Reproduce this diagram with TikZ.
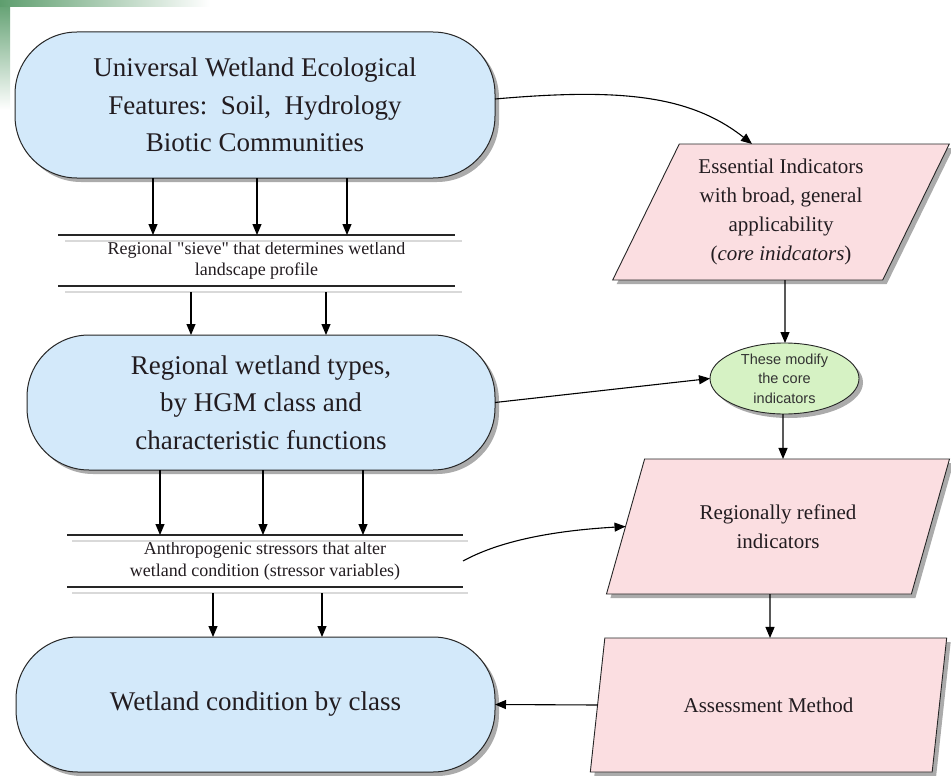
\documentclass[tikz,border=0pt]{standalone}
\usepackage{fontspec}
\setmainfont{Liberation Serif}
\newfontfamily\sansf{Liberation Sans}
\font\straightq="Liberation Serif" at 18pt
\usetikzlibrary{shapes.geometric,shadows,arrows.meta}
\definecolor{bluefill}{HTML}{D3E9FA}
\definecolor{pinkfill}{HTML}{FBDEE1}
\definecolor{greenfill}{HTML}{D6F2C4}
\definecolor{cornergreen}{HTML}{5E9E6E}
\definecolor{txt}{HTML}{221C20}
\begin{document}
\begin{tikzpicture}[x=1pt,y=-1pt,
  shad/.style={drop shadow={shadow xshift=4pt,shadow yshift=-4pt,fill=black,opacity=0.33}},
  stadium/.style={draw=black!85, line width=1pt, fill=bluefill, rounded corners=62pt,
    align=center, inner sep=0pt, outer sep=0pt, text=txt, shad,
    font=\fontsize{27}{37.5}\selectfont},
  para/.style={trapezium, trapezium left angle=63, trapezium right angle=117,
    trapezium stretches=true, draw=black!85, line width=0.9pt, fill=pinkfill,
    align=center, inner sep=0pt, outer sep=0pt, text=txt, shad,
    font=\fontsize{21}{29}\selectfont},
  filterbox/.style={align=center, inner sep=0pt, outer sep=0pt, text=txt,
    font=\fontsize{18}{21.5}\selectfont},
  darkline/.style={line width=1.3pt, black!85},
  paleline/.style={line width=1.3pt, black!15},
  arr/.style={line width=1.1pt, black, -{Triangle[length=11pt,width=9pt]}},
  oval/.style={ellipse, draw=black!85, line width=0.9pt, fill=greenfill, align=center,
    inner sep=0pt, outer sep=0pt, text=black!80, shad,
    font=\sansf\fontsize{14.5}{19.5}\selectfont}]
\useasboundingbox (0,0) rectangle (951,776);
\fill[white] (0,0) rectangle (951,776);
\shade[top color=cornergreen, bottom color=white] (0,0) rectangle (10,110);
\shade[left color=cornergreen, right color=white] (0,0) rectangle (210,7);

% left column
\node[stadium, minimum width=480pt, minimum height=146pt] (n1) at (255,105)
  {Universal Wetland Ecological\\Features:\ \ Soil, \ Hydrology\\Biotic Communities};
\node[filterbox, minimum width=397pt, minimum height=51pt] (sieve) at (256.5,260.5)
  {Regional {\straightq"}sieve{\straightq"} that determines wetland\\landscape profile};
\node[stadium, minimum width=468pt, minimum height=135pt] (n2) at (261,402.5)
  {Regional wetland types,\\by HGM class and\\characteristic functions};
\node[filterbox, minimum width=396pt, minimum height=52pt] (stress) at (265,561)
  {Anthropogenic stressors that alter\\wetland condition (stressor variables)};
\node[stadium, minimum width=479pt, minimum height=135pt] (n3) at (255.5,704.5)
  {Wetland condition by class};

% filter lines
\draw[paleline] ([shift={(7pt,-6pt)}]sieve.north west) -- ([shift={(7pt,-6pt)}]sieve.north east);
\draw[darkline] (sieve.north west) -- (sieve.north east);
\draw[paleline] ([shift={(7pt,-6pt)}]sieve.south west) -- ([shift={(7pt,-6pt)}]sieve.south east);
\draw[darkline] (sieve.south west) -- (sieve.south east);
\draw[paleline] ([shift={(5pt,-6pt)}]stress.north west) -- ([shift={(5pt,-6pt)}]stress.north east);
\draw[darkline] (stress.north west) -- (stress.north east);
\draw[paleline] ([shift={(5pt,-6pt)}]stress.south west) -- ([shift={(5pt,-6pt)}]stress.south east);
\draw[darkline] (stress.south west) -- (stress.south east);

% right column
\node[para, minimum width=338pt, minimum height=136pt] (p1) at (781,212)
  {Essential Indicators\\with broad, general\\applicability\\(\textit{core inidcators})};
\node[oval, minimum width=149pt, minimum height=71pt] (ell) at (784.5,378.5)
  {These modify\\the core\\indicators};
\node[para, minimum width=344pt, minimum height=135pt] (p2) at (778,526.5)
  {Regionally refined\\indicators};
\node[para, minimum width=357pt, minimum height=134pt] (p3) at (768.5,705)
  {Assessment Method};

% vertical arrows, left column
\draw[arr] ([xshift=-102pt]n1.south) -- ([xshift=-103.5pt]sieve.north);
\draw[arr] ([xshift=2pt]n1.south) -- ([xshift=0.5pt]sieve.north);
\draw[arr] ([xshift=92pt]n1.south) -- ([xshift=90.5pt]sieve.north);
\draw[arr] ([xshift=-65.5pt,yshift=-6pt]sieve.south) -- ([xshift=-70pt]n2.north);
\draw[arr] ([xshift=69.5pt,yshift=-6pt]sieve.south) -- ([xshift=65pt]n2.north);
\draw[arr] ([xshift=-101pt]n2.south) -- ([xshift=-105pt]stress.north);
\draw[arr] ([xshift=2pt]n2.south) -- ([xshift=-2pt]stress.north);
\draw[arr] ([xshift=102pt]n2.south) -- ([xshift=98pt]stress.north);
\draw[arr] ([xshift=-52pt,yshift=-6pt]stress.south) -- ([xshift=-42.5pt]n3.north);
\draw[arr] ([xshift=57pt,yshift=-6pt]stress.south) -- ([xshift=66.5pt]n3.north);

% right column arrows
\draw[arr] ([xshift=4pt]p1.south) -- ([xshift=0.5pt]ell.north);
\draw[arr] ([xshift=-1.5pt]ell.south) -- ([xshift=5pt]p2.north);
\draw[arr] ([xshift=-8pt]p2.south) -- ([xshift=1.5pt]p3.north);
\draw[arr] (p3.west) -- (n3.east);

% cross arrows
\draw[arr] ([yshift=6pt]n1.east) .. controls (620,88) and (690,95) .. ([xshift=-29pt]p1.north);
\draw[arr] (n2.east) -- (ell.west);
\draw[arr] (stress.east) .. controls (505,538) and (565,530) .. (p2.west);
\end{tikzpicture}
\end{document}
